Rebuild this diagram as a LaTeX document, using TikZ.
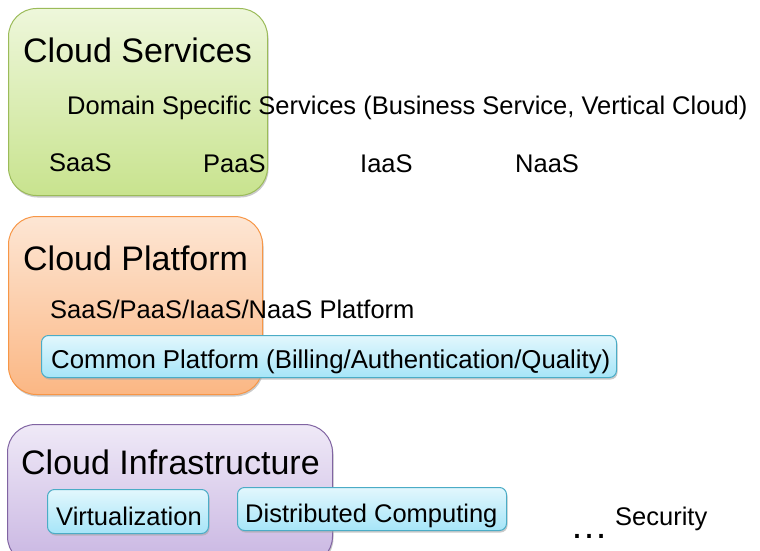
\documentclass[tikz,border=0pt]{standalone}
\usepackage{fontspec}
\setmainfont{Liberation Sans}
\usetikzlibrary{shadows}
\definecolor{gbord}{HTML}{9BBB59}
\definecolor{gtop}{HTML}{EEF7DB}
\definecolor{gbot}{HTML}{C8E38E}
\definecolor{obord}{HTML}{F79646}
\definecolor{otop}{HTML}{FDE6D4}
\definecolor{obot}{HTML}{FBB784}
\definecolor{pbord}{HTML}{8064A2}
\definecolor{ptop}{HTML}{EFE9F7}
\definecolor{pbot}{HTML}{C9B6E2}
\definecolor{bbord}{HTML}{4BACC6}
\definecolor{btop}{HTML}{E2F7FD}
\definecolor{bbot}{HTML}{A6E5F8}
\tikzset{
  layerbox/.style={draw=#1bord, line width=1pt, rounded corners=28pt, top color=#1top, bottom color=#1bot,
    anchor=north west, inner sep=0pt,
    drop shadow={shadow xshift=1pt, shadow yshift=-2pt, fill=black!35, opacity=0.6}},
  subbox/.style={draw=bbord, line width=1pt, rounded corners=7pt, top color=btop, bottom color=bbot,
    anchor=north west, inner sep=0pt,
    drop shadow={shadow xshift=1pt, shadow yshift=-2pt, fill=black!35, opacity=0.6}},
  bigtxt/.style={anchor=base west, inner sep=0pt, font=\fontsize{34}{40}\selectfont},
  smtxt/.style={anchor=base west, inner sep=0pt, font=\fontsize{25.5}{30}\selectfont},
}
\begin{document}
\begin{tikzpicture}[x=1pt,y=-1pt]
\useasboundingbox (0,0) rectangle (760,551);
% layer boxes
\node[layerbox=g, minimum width=259pt, minimum height=187pt] (cs) at (8,8) {};
\node[layerbox=o, minimum width=254pt, minimum height=178pt] (cp) at (8,216) {};
\node[layerbox=p, minimum width=325pt, minimum height=140pt] (ci) at (7,424) {};
% Cloud Services
\node[bigtxt] (cst) at (23,63) {Cloud Services};
\node[smtxt] (dss) at (67,114) {Domain Specific Services (Business Service, Vertical Cloud)};
\node[smtxt] (saas) at (49,171) {SaaS};
\node[smtxt] (paas) at (203,172) {PaaS};
\node[smtxt] (iaas) at (360,172) {IaaS};
\node[smtxt] (naas) at (515,172) {NaaS};
% Cloud Platform
\node[bigtxt] (cpt) at (23,270) {Cloud Platform};
\node[smtxt] (plat) at (50,318) {SaaS/PaaS/IaaS/NaaS Platform};
\node[subbox, minimum width=575pt, minimum height=42pt] (cmp) at (41,335) {};
\node[smtxt, font=\fontsize{25.8}{30}\selectfont] (cmpt) at (51,368) {Common Platform (Billing/Authentication/Quality)};
% Cloud Infrastructure
\node[bigtxt] (cit) at (21,474) {Cloud Infrastructure};
\node[subbox, minimum width=161pt, minimum height=44pt] (vir) at (47,489) {};
\node[smtxt] (virt) at (56,525) {Virtualization};
\node[subbox, minimum width=269pt, minimum height=43pt] (dis) at (237,487) {};
\node[smtxt] (dist) at (245,522) {Distributed Computing};
\node[anchor=base west, inner sep=0pt, font=\fontsize{38}{40}\selectfont] (dots) at (570,538) {\char"2026};
\node[smtxt] (sec) at (615,525) {Security};
\end{tikzpicture}
\end{document}
